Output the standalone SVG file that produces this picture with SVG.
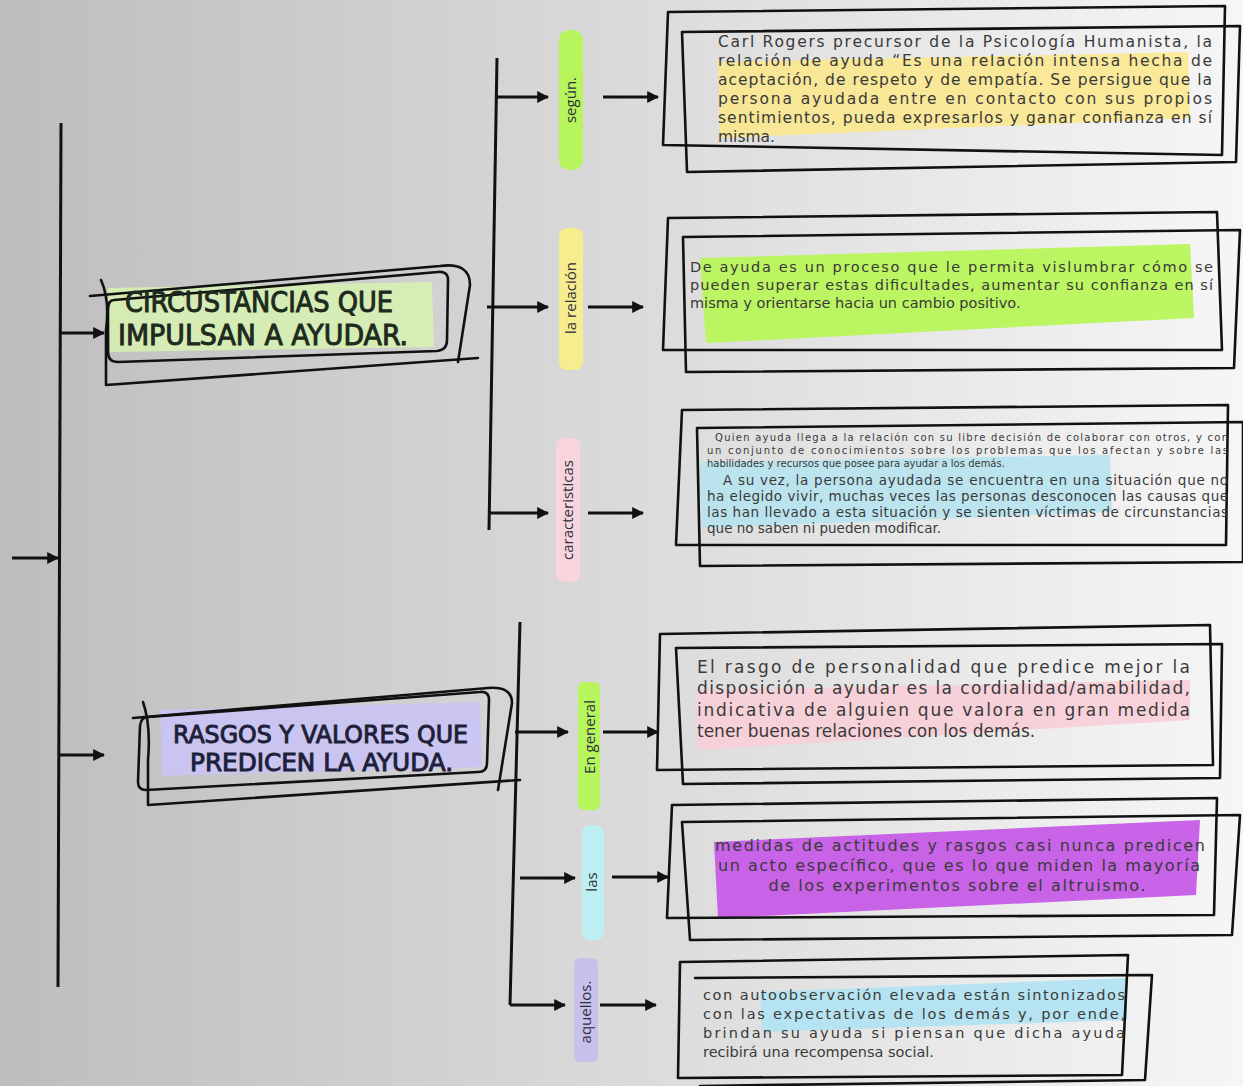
<svg xmlns="http://www.w3.org/2000/svg" width="1243" height="1086" viewBox="0 0 1243 1086">
<defs>
<linearGradient id="bg" x1="0" y1="0" x2="1" y2="0">
<stop offset="0" stop-color="#bdbdbd"/>
<stop offset="0.5" stop-color="#dadada"/>
<stop offset="1" stop-color="#f6f6f6"/>
</linearGradient>
<marker id="ah" viewBox="0 0 10 10" refX="9" refY="5" markerWidth="12" markerHeight="12" markerUnits="userSpaceOnUse" orient="auto">
<path d="M0,0 L10,5 L0,10 Z" fill="#111"/>
</marker>
<style>
.ln{stroke:#111;stroke-width:3;fill:none}
.ar{stroke:#111;stroke-width:3;fill:none;marker-end:url(#ah)}
.sk{stroke:#111;stroke-width:2.6;fill:none;stroke-linejoin:round;stroke-linecap:round}
.tt{font-family:"DejaVu Sans Condensed","Liberation Sans Narrow","Liberation Sans",sans-serif;font-weight:normal;stroke-width:0.9}
.bt{font-family:"DejaVu Sans","Noto Sans","Liberation Sans",sans-serif;fill:#3a3a3a}
.lb{font-family:"Open Sans","Noto Sans","Liberation Sans",sans-serif;font-size:15px;fill:#2e2e3a}
</style>
</defs>
<rect x="0" y="0" width="1243" height="1086" fill="url(#bg)"/>

<g id="connectors">
<path class="ar" d="M12,558 L58,558"/>
<path class="ln" d="M61,123 L58,987"/>
<path class="ar" d="M60,333 L104,333"/>
<path class="ar" d="M60,755 L104,755"/>
<path class="ln" d="M497,58 L489,530"/>
<path class="ar" d="M497,97 L548,97"/>
<path class="ar" d="M487,307 L548,307"/>
<path class="ar" d="M490,513 L548,513"/>
<path class="ar" d="M603,97 L658,97"/>
<path class="ar" d="M588,307 L643,307"/>
<path class="ar" d="M588,513 L643,513"/>
<path class="ln" d="M520,622 L510,1005"/>
<path class="ar" d="M515,732 L568,732"/>
<path class="ar" d="M520,878 L575,878"/>
<path class="ar" d="M510,1005 L565,1005"/>
<path class="ar" d="M603,732 L658,732"/>
<path class="ar" d="M612,877 L668,877"/>
<path class="ar" d="M600,1005 L656,1005"/>
</g>

<g id="title-circunstancias">
<polygon points="108,288 432,282 434,347 110,352" fill="#d6f0b2" opacity="0.9"/>
<path class="sk" d="M90,296 L440,266 Q470,262 470,285 L458,362"/>
<path class="sk" d="M114,300 L438,272 Q448,271 448,280 L447,340 Q447,350 437,351 L118,362 Q108,362 108,352 L108,310 Q108,300 114,300 Z"/>
<path class="sk" d="M101,280 Q110,300 106,330 L106,385 L478,358"/>
<text class="tt" x="125" y="312" font-size="28" fill="#1d2a1d" stroke="#1d2a1d" textLength="268" lengthAdjust="spacingAndGlyphs">CIRCUSTANCIAS QUE</text>
<text class="tt" x="118" y="345" font-size="28" fill="#1d2a1d" stroke="#1d2a1d" textLength="290" lengthAdjust="spacingAndGlyphs">IMPULSAN A AYUDAR.</text>
</g>

<g id="title-rasgos">
<polygon points="160,710 480,702 482,767 162,776" fill="#c9c3f4" opacity="0.9"/>
<path class="sk" d="M133,718 L488,688 Q512,686 512,703 L498,790"/>
<path class="sk" d="M148,717 L480,692 Q489,691 489,700 L487,763 Q487,772 478,772 L146,790 Q138,790 138,782 L140,726 Q141,717 148,717 Z"/>
<path class="sk" d="M143,702 Q151,725 148,760 L148,805 L520,780"/>
<text class="tt" x="173" y="743" font-size="24" fill="#1f1f3a" stroke="#1f1f3a" textLength="295" lengthAdjust="spacingAndGlyphs">RASGOS Y VALORES QUE</text>
<text class="tt" x="190" y="771" font-size="24" fill="#1f1f3a" stroke="#1f1f3a" textLength="263" lengthAdjust="spacingAndGlyphs">PREDICEN LA AYUDA.</text>
</g>

<g id="label-segun">
<rect x="559" y="30" width="24" height="140" rx="10" fill="#b6f55c"/>
<text class="lb" transform="translate(576,100) rotate(-90)" text-anchor="middle">según.</text>
</g>
<g id="label-relacion">
<rect x="559" y="228" width="24" height="142" rx="8" fill="#f7ec8e"/>
<text class="lb" transform="translate(576,298) rotate(-90)" text-anchor="middle">la relación</text>
</g>
<g id="label-caracteristicas">
<rect x="556" y="438" width="24" height="144" rx="8" fill="#f8d5dc"/>
<text class="lb" transform="translate(573,510) rotate(-90)" text-anchor="middle">caracteristicas</text>
</g>
<g id="label-general">
<rect x="578" y="682" width="22" height="128" rx="6" fill="#b6f55c"/>
<text class="lb" transform="translate(595,737) rotate(-90)" text-anchor="middle">En general</text>
</g>
<g id="label-las">
<rect x="582" y="825" width="22" height="115" rx="8" fill="#bdeff3"/>
<text class="lb" transform="translate(597,882) rotate(-90)" text-anchor="middle">las</text>
</g>
<g id="label-aquellos">
<rect x="574" y="958" width="24" height="104" rx="6" fill="#c7c1ee"/>
<text class="lb" transform="translate(591,1012) rotate(-90)" text-anchor="middle">aquellos.</text>
</g>

<g id="box-rogers">
<polygon points="718,62 1188,52 1190,118 720,138" fill="#fbe88a" opacity="0.85"/>
<path class="sk" d="M668,12 L1225,6 L1222,155 L663,145 Z"/>
<path class="sk" d="M682,32 L1240,26 L1236,162 L687,172 Z"/>
<g class="bt" font-size="15.5">
<text x="718" y="47" textLength="494" lengthAdjust="spacing">Carl Rogers precursor de la Psicología Humanista, la</text>
<text x="718" y="66" textLength="494" lengthAdjust="spacing">relación de ayuda “Es una relación intensa hecha de</text>
<text x="718" y="85" textLength="494" lengthAdjust="spacing">aceptación, de respeto y de empatía. Se persigue que la</text>
<text x="718" y="104" textLength="494" lengthAdjust="spacing">persona ayudada entre en contacto con sus propios</text>
<text x="718" y="123" textLength="494" lengthAdjust="spacing">sentimientos, pueda expresarlos y ganar confianza en sí</text>
<text x="718" y="142">misma.</text>
</g>
</g>

<g id="box-relacion">
<polygon points="700,258 1190,244 1194,318 706,343" fill="#b8f55a" opacity="0.95"/>
<path class="sk" d="M668,218 L1217,212 L1222,350 L663,350 Z"/>
<path class="sk" d="M683,237 L1240,230 L1234,368 L686,372 Z"/>
<g class="bt" font-size="14.5">
<text x="690" y="272" textLength="523" lengthAdjust="spacing">De ayuda es un proceso que le permita vislumbrar cómo se</text>
<text x="690" y="290" textLength="523" lengthAdjust="spacing">pueden superar estas dificultades, aumentar su confianza en sí</text>
<text x="690" y="308">misma y orientarse hacia un cambio positivo.</text>
</g>
</g>

<g id="box-caracteristicas">
<polygon points="700,462 1110,455 1112,512 702,528" fill="#b7e3ef" opacity="0.9"/>
<path class="sk" d="M682,410 L1228,405 L1226,545 L676,545 Z"/>
<path class="sk" d="M697,428 L1243,422 L1243,562 L700,566 Z"/>
<g class="bt">
<text x="715" y="441" font-size="10" textLength="513" lengthAdjust="spacing">Quien ayuda llega a la relación con su libre decisión de colaborar con otros, y con</text>
<text x="707" y="454" font-size="10" textLength="521" lengthAdjust="spacing">un conjunto de conocimientos sobre los problemas que los afectan y sobre las</text>
<text x="707" y="467" font-size="10">habilidades y recursos que posee para ayudar a los demás.</text>
<text x="723" y="485" font-size="13.5" textLength="505" lengthAdjust="spacing">A su vez, la persona ayudada se encuentra en una situación que no</text>
<text x="707" y="501" font-size="13.5" textLength="521" lengthAdjust="spacing">ha elegido vivir, muchas veces las personas desconocen las causas que</text>
<text x="707" y="517" font-size="13.5" textLength="521" lengthAdjust="spacing">las han llevado a esta situación y se sienten víctimas de circunstancias</text>
<text x="707" y="533" font-size="13.5">que no saben ni pueden modificar.</text>
</g>
</g>

<g id="box-general">
<polygon points="697,690 1190,680 1190,720 697,750" fill="#f8d0d8" opacity="0.95"/>
<path class="sk" d="M660,634 L1210,625 L1213,765 L657,770 Z"/>
<path class="sk" d="M676,648 L1222,644 L1220,778 L683,784 Z"/>
<g class="bt" font-size="17">
<text x="697" y="673" textLength="493" lengthAdjust="spacing">El rasgo de personalidad que predice mejor la</text>
<text x="697" y="694" textLength="493" lengthAdjust="spacing">disposición a ayudar es la cordialidad/amabilidad,</text>
<text x="697" y="716" textLength="493" lengthAdjust="spacing">indicativa de alguien que valora en gran medida</text>
<text x="697" y="737">tener buenas relaciones con los demás.</text>
</g>
</g>

<g id="box-las">
<polygon points="714,842 1200,820 1196,895 718,918" fill="#c65be6" opacity="0.95"/>
<path class="sk" d="M672,805 L1217,798 L1214,915 L667,918 Z"/>
<path class="sk" d="M682,822 L1240,815 L1232,935 L690,940 Z"/>
<g class="bt" font-size="16" text-anchor="middle">
<text x="960" y="851" textLength="490" lengthAdjust="spacing">medidas de actitudes y rasgos casi nunca predicen</text>
<text x="959" y="871" textLength="482" lengthAdjust="spacing">un acto específico, que es lo que miden la mayoría</text>
<text x="957" y="891" textLength="377" lengthAdjust="spacing">de los experimentos sobre el altruismo.</text>
</g>
</g>

<g id="box-aquellos">
<polygon points="760,992 1127,978 1127,1020 762,1032" fill="#b3e3f1" opacity="0.95"/>
<path class="sk" d="M680,962 L1128,955 L1122,1075 L678,1078 Z"/>
<path class="sk" d="M695,978 L1152,975 L1145,1080 L700,1086"/>
<g class="bt" font-size="14.5">
<text x="703" y="1000" textLength="422" lengthAdjust="spacing">con autoobservación elevada están sintonizados</text>
<text x="703" y="1019" textLength="422" lengthAdjust="spacing">con las expectativas de los demás y, por ende,</text>
<text x="703" y="1038" textLength="422" lengthAdjust="spacing">brindan su ayuda si piensan que dicha ayuda</text>
<text x="703" y="1057">recibirá una recompensa social.</text>
</g>
</g>
</svg>
